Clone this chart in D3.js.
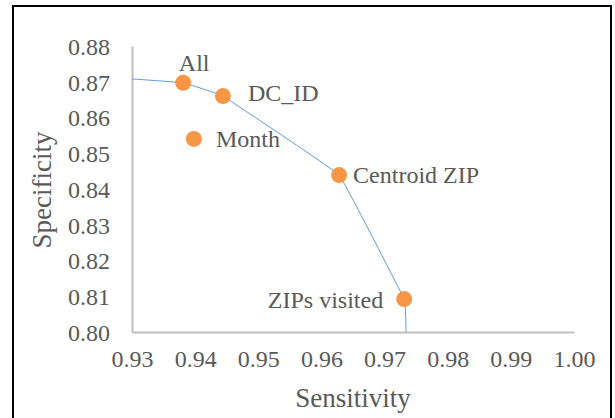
<!DOCTYPE html>
<html><head><meta charset="utf-8">
<script src="https://cdn.jsdelivr.net/npm/d3@7"></script>
<style>body{margin:0;background:#fff}svg{display:block}</style>
</head><body>
<svg id="c" width="615" height="418"></svg>
<script>
// Data
const pointNames = ["All", "DC_ID", "Month", "Centroid ZIP", "ZIPs visited"];
const sensitivity = [0.9381, 0.9444, 0.9398, 0.9628, 0.9731];
const specificity = [0.8697, 0.8660, 0.8540, 0.8439, 0.8092];
// frontier line
const frontierSens = [0.930, 0.9381, 0.9444, 0.9628, 0.9731, 0.9734];
const frontierSpec = [0.8708, 0.8697, 0.8660, 0.8439, 0.8092, 0.800];
const xTicks = [0.93, 0.94, 0.95, 0.96, 0.97, 0.98, 0.99, 1.00];
const yTicks = [0.80, 0.81, 0.82, 0.83, 0.84, 0.85, 0.86, 0.87, 0.88];

const svg = d3.select("#c");
const font = "Liberation Serif, Times New Roman, serif";
const textCol = "#595959";

// frame
svg.append("rect").attr("x", 13).attr("y", 6).attr("width", 598).attr("height", 430)
  .attr("fill", "none").attr("stroke", "#000").attr("stroke-width", 2);

const x = d3.scaleLinear().domain([0.93, 1.00]).range([132, 574]);
const y = d3.scaleLinear().domain([0.80, 0.88]).range([332, 46]);

const xAxis = svg.append("g").attr("transform", "translate(0,332)")
  .call(d3.axisBottom(x).tickValues(xTicks).tickFormat(d3.format(".2f")).tickSize(0).tickPadding(18));
const yAxis = svg.append("g").attr("transform", "translate(132,0)")
  .call(d3.axisLeft(y).tickValues(yTicks).tickFormat(d3.format(".2f")).tickSize(0).tickPadding(22));
[xAxis, yAxis].forEach(g => {
  g.attr("font-family", font).attr("font-size", 24);
  g.select(".domain").attr("stroke", "#bfbfbf").attr("stroke-width", 2);
  g.selectAll("text").attr("fill", textCol);
});
yAxis.selectAll("text").attr("dy", "0.35em");
xAxis.selectAll("text").attr("dy", "0.7em");

// frontier line
const fr = frontierSens.map((s, i) => [s, frontierSpec[i]]);
svg.append("path").datum(fr)
  .attr("d", d3.line().x(d => x(d[0])).y(d => y(d[1])).curve(d3.curveCardinal.tension(0.85)))
  .attr("fill", "none").attr("stroke", "#5b9bd5").attr("stroke-width", 1);

// points
const pts = pointNames.map((n, i) => ({name: n, sx: sensitivity[i], sy: specificity[i]}));
svg.append("g").selectAll("circle").data(pts).join("circle")
  .attr("cx", d => x(d.sx)).attr("cy", d => y(d.sy)).attr("r", 8)
  .attr("fill", "#f79646");

// label placement (style)
const labelPos = {
  "All": {dx: 11, dy: -12, anchor: "middle", base: "auto"},
  "DC_ID": {dx: 25, dy: -3, anchor: "start", base: "middle"},
  "Month": {dx: 22, dy: 0, anchor: "start", base: "middle"},
  "Centroid ZIP": {dx: 14, dy: 0, anchor: "start", base: "middle"},
  "ZIPs visited": {dx: -21, dy: 0, anchor: "end", base: "middle"}
};
svg.append("g").selectAll("text").data(pts).join("text")
  .attr("x", d => x(d.sx) + labelPos[d.name].dx)
  .attr("y", d => y(d.sy) + labelPos[d.name].dy)
  .attr("text-anchor", d => labelPos[d.name].anchor)
  .attr("dy", d => labelPos[d.name].base === "middle" ? "0.35em" : 0)
  .attr("font-family", font).attr("font-size", 24).attr("fill", textCol)
  .text(d => d.name);

// axis titles
svg.append("text").attr("x", 353).attr("y", 407).attr("text-anchor", "middle")
  .attr("font-family", font).attr("font-size", 27).attr("fill", textCol).text("Sensitivity");
svg.append("text").attr("transform", "translate(51,190) rotate(-90)").attr("text-anchor", "middle")
  .attr("font-family", font).attr("font-size", 27).attr("fill", textCol).text("Specificity");
</script>
</body></html>
